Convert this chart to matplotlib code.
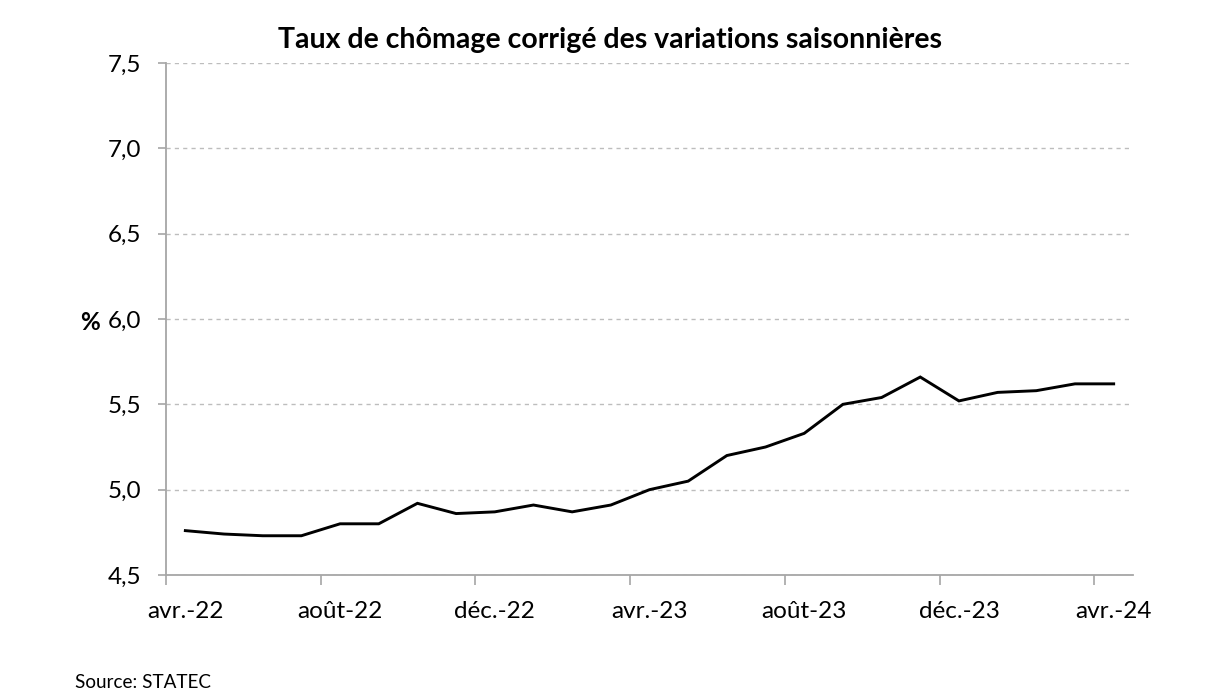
#!/usr/bin/env python3

import numpy as np
import matplotlib as mpl
mpl.use("Agg")
import matplotlib.pyplot as plt
from matplotlib.ticker import FixedLocator, FuncFormatter

mpl.rcParams.update({
    "font.family": ["Lato", "DejaVu Sans"],
    "axes.spines.top": False, "axes.spines.right": False,
})

# monthly series, avr.-22 .. avr.-24
MONTHS = ["avr.-22", "mai-22", "juin-22", "juil.-22", "août-22", "sept.-22",
          "oct.-22", "nov.-22", "déc.-22", "janv.-23", "févr.-23", "mars-23",
          "avr.-23", "mai-23", "juin-23", "juil.-23", "août-23", "sept.-23",
          "oct.-23", "nov.-23", "déc.-23", "janv.-24", "févr.-24", "mars-24",
          "avr.-24"]
RATE = [4.76, 4.74, 4.73, 4.73, 4.80, 4.80, 4.92, 4.86, 4.87, 4.91, 4.87, 4.91,
        5.00, 5.05, 5.20, 5.25, 5.33, 5.50, 5.54, 5.66, 5.52, 5.57, 5.58, 5.62,
        5.62]
YTICKS = [4.5, 5.0, 5.5, 6.0, 6.5, 7.0, 7.5]
LABEL_EVERY = 4

TITLE = "Taux de chômage corrigé des variations saisonnières"
SOURCE = "Source: STATEC"

fig = plt.figure(figsize=(12.24, 6.99), dpi=100)
ax = fig.add_axes([166 / 1224, 1 - 575 / 699, (1133 - 166) / 1224, (575 - 63) / 699])

x = np.arange(len(MONTHS))
ax.plot(x, RATE, color="black", lw=2.1, solid_joinstyle="miter")

ax.set_xlim(-0.5, len(MONTHS) - 0.5)
ax.set_ylim(YTICKS[0], YTICKS[-1])

# category axis: tick marks between categories, labels at centres
ax.xaxis.set_major_locator(FixedLocator(np.arange(-0.5, len(MONTHS) - 1, LABEL_EVERY)))
ax.xaxis.set_major_formatter(FuncFormatter(lambda v, p: ""))
lab_pos = x[::LABEL_EVERY]
ax.xaxis.set_minor_locator(FixedLocator(lab_pos))
ax.xaxis.set_minor_formatter(FuncFormatter(lambda v, p: MONTHS[int(round(v))]))
ax.tick_params(axis="x", which="major", length=7, width=1.2, color="#a6a6a6", direction="out")
ax.tick_params(axis="x", which="minor", length=0, pad=19, labelsize=17.5)

ax.set_yticks(YTICKS)
ax.yaxis.set_major_formatter(FuncFormatter(lambda v, p: f"{v:.1f}".replace(".", ",")))
ax.tick_params(axis="y", length=6, width=1.2, color="#a6a6a6", pad=12, labelsize=17.5)

for s in ("left", "bottom"):
    ax.spines[s].set_color("#a6a6a6")
    ax.spines[s].set_linewidth(1.3)

ax.yaxis.grid(True, linestyle=(0, (3, 3)), color="#bdbdbd", linewidth=1.0)
ax.set_axisbelow(True)

fig.text(610 / 1224, 1 - 40 / 699, TITLE, ha="center", va="center",
         fontsize=20.5, fontweight="bold")
fig.text(90 / 1224, 1 - 322 / 699, "%", ha="center", va="center",
         fontsize=17.5, fontweight="bold")
fig.text(75 / 1224, 1 - 683 / 699, SOURCE, ha="left", va="center", fontsize=13.6)

fig.savefig("out.png", dpi=100)
